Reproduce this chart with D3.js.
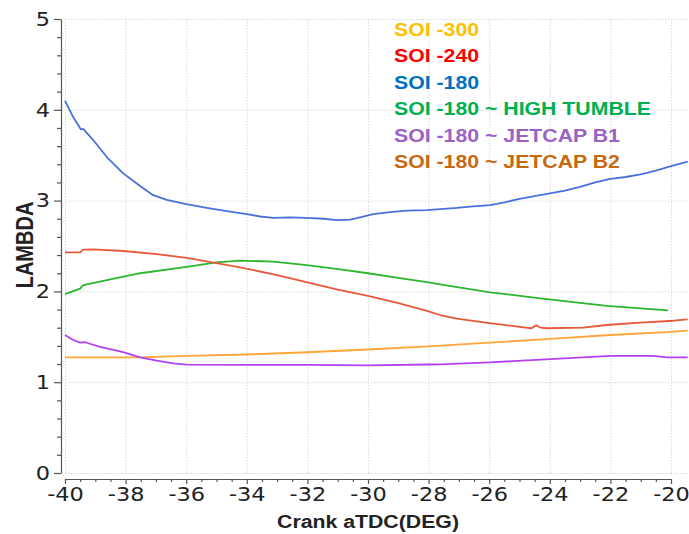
<!DOCTYPE html>
<html>
<head>
<meta charset="utf-8">
<script src="https://cdn.jsdelivr.net/npm/d3@7"></script>
<style>
  body { margin: 0; background: #fff; }
  svg { display: block; }
</style>
</head>
<body>
<svg id="chart" width="689" height="534"></svg>
<script>
// Lambda vs crank angle for several start-of-injection (SOI) settings
const soi180Deg = [-40, -39.73, -39.48, -39.4, -39.07, -38.62, -38.08, -37.52, -37.09, -36.64, -36.0, -35.32, -34.66, -34.0, -33.56, -33.13, -32.57, -32.02, -31.47, -31.03, -30.59, -30.26, -29.83, -29.27, -28.72, -28.06, -27.62, -27.07, -26.53, -25.97, -25.5, -25, -24.5, -24, -23.5, -23, -22.5, -22, -21.5, -21, -20.5, -20, -19.45];
const soi180Lambda = [4.10, 3.92, 3.785, 3.79, 3.667, 3.48, 3.30, 3.16, 3.06, 3.007, 2.96, 2.92, 2.885, 2.85, 2.825, 2.81, 2.815, 2.81, 2.80, 2.786, 2.79, 2.815, 2.85, 2.874, 2.89, 2.896, 2.907, 2.92, 2.937, 2.95, 2.98, 3.02, 3.05, 3.08, 3.11, 3.15, 3.20, 3.24, 3.26, 3.29, 3.33, 3.38, 3.43];

const soi240Deg = [-40, -39.5, -39.4, -39.07, -38.08, -36.97, -35.98, -35.1, -34.22, -33, -32, -31, -30, -29, -28, -27.62, -27.07, -26, -25, -24.6, -24.45, -24.3, -24.1, -22.9, -22.12, -21.02, -19.92, -19.45];
const soi240Lambda = [2.43, 2.43, 2.46, 2.463, 2.445, 2.41, 2.37, 2.316, 2.265, 2.18, 2.10, 2.02, 1.95, 1.87, 1.78, 1.74, 1.70, 1.65, 1.61, 1.594, 1.627, 1.60, 1.594, 1.60, 1.63, 1.655, 1.677, 1.693];

const tumbleDeg = [-40, -39.5, -39.4, -38.62, -37.52, -35.98, -35.0, -34.22, -33.13, -32.02, -30.92, -30, -29, -28, -27.62, -25.97, -24.32, -22.12, -20.1];
const tumbleLambda = [1.97, 2.03, 2.07, 2.125, 2.20, 2.27, 2.32, 2.34, 2.327, 2.29, 2.243, 2.20, 2.15, 2.10, 2.078, 1.99, 1.924, 1.84, 1.79];

const jetcapB1Deg = [-40, -39.73, -39.5, -39.34, -38.84, -38.08, -37.52, -36.97, -36.43, -35.98, -34, -32, -30, -28, -27.62, -25.97, -23.99, -22.0, -20.58, -20.14, -19.45];
const jetcapB1Lambda = [1.52, 1.465, 1.435, 1.44, 1.39, 1.33, 1.274, 1.237, 1.208, 1.193, 1.19, 1.19, 1.185, 1.195, 1.197, 1.219, 1.255, 1.289, 1.289, 1.274, 1.274];

const soi300Deg = [-40, -37.5, -36, -34, -32, -30, -28, -26, -24, -22, -20, -19.45];
const soi300Lambda = [1.274, 1.274, 1.289, 1.305, 1.33, 1.36, 1.395, 1.435, 1.477, 1.52, 1.555, 1.567];

const legendLabels = ["SOI -300", "SOI -240", "SOI -180", "SOI -180 ~ HIGH TUMBLE", "SOI -180 ~ JETCAP B1", "SOI -180 ~ JETCAP B2"];
const legendColors = ["#FFC000", "#FF0000", "#0070C0", "#00B050", "#9B62C6", "#C9690F"];

const xTicks = [-40, -38, -36, -34, -32, -30, -28, -26, -24, -22, -20];
const yTicks = [0, 1, 2, 3, 4, 5];

const xTitle = "Crank aTDC(DEG)";
const yTitle = "LAMBDA";

const series = [
  { deg: soi300Deg, lambda: soi300Lambda, color: "#FFA53A" },
  { deg: jetcapB1Deg, lambda: jetcapB1Lambda, color: "#B441F0" },
  { deg: tumbleDeg, lambda: tumbleLambda, color: "#2EB52E" },
  { deg: soi240Deg, lambda: soi240Lambda, color: "#E8583A" },
  { deg: soi180Deg, lambda: soi180Lambda, color: "#4A70DD" }
];

const stretch = 1.15;
const svg = d3.select("#chart");

const x = d3.scaleLinear().domain([-40, -20]).range([65, 671]);
const y = d3.scaleLinear().domain([0, 5]).range([473, 19]);
const plotRight = 688;
const plain = d => String(d); // keep an ASCII hyphen for negative labels

// dotted grid
const grid = svg.append("g").attr("stroke", "#d9d9d9").attr("stroke-width", 1).attr("stroke-dasharray", "1.5,1.5");
grid.selectAll("line.v").data(xTicks).join("line")
  .attr("x1", d => x(d) + 0.5).attr("x2", d => x(d) + 0.5)
  .attr("y1", y(5)).attr("y2", y(0));
grid.selectAll("line.h").data(yTicks).join("line")
  .attr("x1", x(-40)).attr("x2", plotRight)
  .attr("y1", d => y(d) + 0.5).attr("y2", d => y(d) + 0.5);

// axes
const axisColor = "#555";
const yMinor = d3.range(0, 5.0001, 0.2).filter(v => Math.abs(v - Math.round(v)) > 1e-6);
const xMinor = d3.range(-40, -19.9999, 0.5).filter(v => Math.abs(v / 2 - Math.round(v / 2)) > 1e-6);

const yAxisG = svg.append("g").attr("transform", "translate(61,0)");
yAxisG.append("g").call(d3.axisLeft(y).tickValues(yMinor).tickSize(4).tickSizeOuter(0).tickFormat(""))
  .call(g => g.select(".domain").remove());
yAxisG.append("g").call(d3.axisLeft(y).tickValues(yTicks).tickSize(7).tickSizeOuter(0).tickPadding(4).tickFormat(plain));

const xAxisG = svg.append("g").attr("transform", "translate(0,479)");
xAxisG.append("g").call(d3.axisBottom(x).tickValues(xMinor).tickSize(3).tickSizeOuter(0).tickFormat(""))
  .call(g => g.select(".domain").remove());
xAxisG.append("g").call(d3.axisBottom(x).tickValues(xTicks).tickSize(5).tickSizeOuter(0).tickPadding(3).tickFormat(plain));

svg.selectAll(".domain, .tick line").attr("stroke", axisColor).attr("stroke-width", 1.2);
svg.selectAll(".tick text")
  .attr("font-family", "DejaVu Sans, sans-serif")
  .attr("font-size", 19.5)
  .attr("fill", "#222");
yAxisG.selectAll(".tick text").attr("x", -11 / stretch).attr("transform", `scale(${stretch},1)`);
xAxisG.selectAll(".tick text").attr("transform", `scale(${stretch},1)`);

// axis titles
svg.append("text")
  .attr("transform", `translate(${(x(-40) + x(-20)) / 2},528) scale(${stretch},1)`)
  .attr("text-anchor", "middle")
  .attr("font-family", "Liberation Sans, Arial, sans-serif")
  .attr("font-weight", "bold").attr("font-size", 18.5).attr("fill", "#222")
  .text(xTitle);
svg.append("text")
  .attr("transform", `translate(33,245) scale(${stretch},1) rotate(-90)`)
  .attr("text-anchor", "middle")
  .attr("font-family", "Liberation Sans, Arial, sans-serif")
  .attr("font-weight", "bold").attr("font-size", 20).attr("fill", "#222")
  .text(yTitle);

// series lines
const line = d3.line().x(d => x(d[0])).y(d => y(d[1]));
svg.append("g").selectAll("path").data(series).join("path")
  .attr("d", s => line(d3.zip(s.deg, s.lambda)))
  .attr("fill", "none")
  .attr("stroke", s => s.color)
  .attr("stroke-width", 1.8)
  .attr("stroke-linejoin", "round");

// legend (text only)
svg.append("g").selectAll("text").data(legendLabels).join("text")
  .attr("transform", (d, i) => `translate(394,${36 + i * 26.4}) scale(${stretch},1)`)
  .attr("font-family", "Liberation Sans, Arial, sans-serif")
  .attr("font-weight", "bold").attr("font-size", 18.5)
  .attr("fill", (d, i) => legendColors[i])
  .text(d => d);
</script>
</body>
</html>
